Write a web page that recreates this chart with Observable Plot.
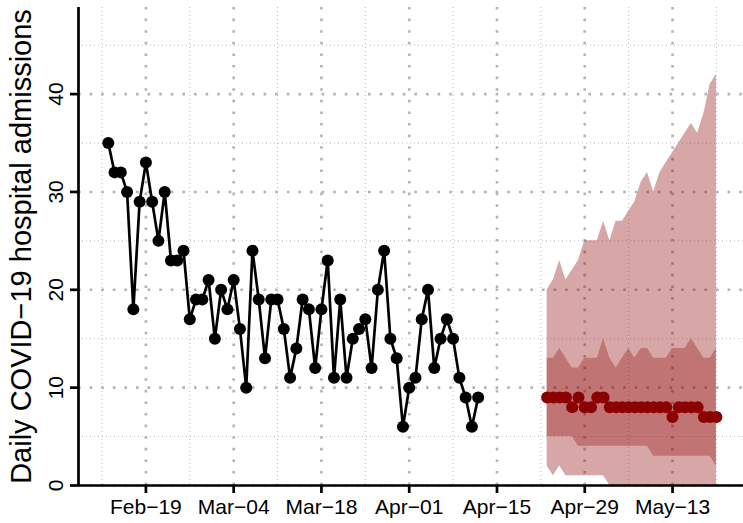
<!DOCTYPE html>
<html>
<head>
<meta charset="utf-8">
<script src="https://cdn.jsdelivr.net/npm/d3@7"></script>
<script src="https://cdn.jsdelivr.net/npm/@observablehq/plot@0.6"></script>
<style>
  html, body { margin: 0; padding: 0; background: white; }
</style>
</head>
<body>
<script>
// ---- data ----
const obsStart = "2020-02-13";
const observed = [35,32,32,30,18,29,33,29,25,30,23,23,24,17,19,19,21,15,20,18,
                  21,16,10,24,19,13,19,19,16,11,14,19,18,12,18,23,11,19,11,15,
                  16,17,12,20,24,15,13,6,10,11,17,20,12,15,17,15,11,9,6,9];

const fcStart = "2020-04-23";
const fcMedian = [9,9,9,9,8,9,8,8,9,9,8,8,8,8,8,8,8,8,8,8,7,8,8,8,8,7,7,7];
const fcLo50   = [5,5,5,5,5,4,4,4,4,4,4,4,4,4,4,4,4,3,3,3,3,3,3,3,3,3,3,2];
const fcHi50   = [13,13,14,13,12,12,13,13,13,15,13,12,13,14,13,14,14,13,13,13,14,14,14,15,14,13,13,14];
const fcLo95   = [2,1,2,1,1,1,1,1,1,1,0,0,0,0,0,0,0,0,0,0,0,0,0,0,0,0,0,0];
const fcHi95   = [20,21,23,21,22,23,25,25,25,27,25,27,27,28,29,31,32,30,32,33,34,35,36,37,36,38,41,42];

const xTickDates  = ["2020-02-19","2020-03-04","2020-03-18","2020-04-01","2020-04-15","2020-04-29","2020-05-13"];
const xTickLabels = ["Feb−19","Mar−04","Mar−18","Apr−01","Apr−15","Apr−29","May−13"];
const xMinorDates = ["2020-02-12","2020-02-26","2020-03-11","2020-03-25","2020-04-08","2020-04-22","2020-05-06","2020-05-20"];
const yTicks = [0, 10, 20, 30, 40];
const yMinor = [5, 15, 25, 35, 45];
const yLabel = "Daily COVID−19 hospital admissions";

// ---- tables ----
const parse = d3.utcParse("%Y-%m-%d");
const obs = observed.map((v, i) => ({date: d3.utcDay.offset(parse(obsStart), i), value: v}));
const fc = fcMedian.map((v, i) => ({
  date: d3.utcDay.offset(parse(fcStart), i),
  median: v, lo50: fcLo50[i], hi50: fcHi50[i], lo95: fcLo95[i], hi95: fcHi95[i]
}));
const majorX = xTickDates.map(parse);
const minorX = xMinorDates.map(parse);
const labelMap = new Map(majorX.map((d, i) => [+d, xTickLabels[i]]));

const DAY = 864e5;
const ref = parse("2020-02-19");
const xMin = new Date(+ref - 10.75 * DAY);
const xMax = new Date(+ref + 95.32 * DAY);

const chart = Plot.plot({
  width: 743,
  height: 523,
  marginTop: 7,
  marginBottom: 38,
  marginLeft: 78,
  marginRight: 0,
  style: {background: "white", fontFamily: "'Liberation Sans', Arial, Helvetica, sans-serif", color: "black"},
  x: {type: "utc", domain: [xMin, xMax]},
  y: {domain: [0, 48.85]},
  marks: [
    // grid
    Plot.ruleY(yMinor, {stroke: "#bdbdbd", strokeWidth: 1, strokeDasharray: "1,3"}),
    Plot.ruleX(minorX, {stroke: "#bdbdbd", strokeWidth: 1, strokeDasharray: "1,3"}),
    Plot.ruleY(yTicks, {stroke: "#b3b3b3", strokeWidth: 2.6, strokeDasharray: "2.6,9"}),
    Plot.ruleX(majorX, {stroke: "#b3b3b3", strokeWidth: 2.6, strokeDasharray: "2.6,9"}),
    // forecast bands
    Plot.areaY(fc, {x: "date", y1: "lo95", y2: "hi95", fill: "#8B0000", fillOpacity: 0.35}),
    Plot.areaY(fc, {x: "date", y1: "lo50", y2: "hi50", fill: "#8B0000", fillOpacity: 0.3}),
    // observed
    Plot.line(obs, {x: "date", y: "value", stroke: "black", strokeWidth: 2.7}),
    Plot.dot(obs, {x: "date", y: "value", fill: "black", r: 6}),
    // forecast median
    Plot.dot(fc, {x: "date", y: "median", fill: "#8B0000", r: 6}),
    // axes
    Plot.ruleX([xMin], {stroke: "black", strokeWidth: 2.7}),
    Plot.ruleY([0], {stroke: "black", strokeWidth: 2.7}),
    Plot.axisX({ticks: majorX, tickFormat: d => labelMap.get(+d), tickSize: 8, tickPadding: 6,
                fontSize: 21, strokeWidth: 2.7, label: null}),
    Plot.axisY({ticks: yTicks, tickFormat: d => "", tickSize: 8, strokeWidth: 2.7, label: null}),
    Plot.text(yTicks, {y: d => d, text: d => String(d), frameAnchor: "left", dx: -22,
                       rotate: -90, textAnchor: "middle", lineAnchor: "middle", fontSize: 21, fill: "black"}),
    Plot.text([yLabel], {text: d => d, frameAnchor: "left", dx: -57, rotate: -90,
                         textAnchor: "middle", lineAnchor: "middle", fontSize: 29, fill: "black"})
  ]
});
document.body.appendChild(chart);
</script>
</body>
</html>
